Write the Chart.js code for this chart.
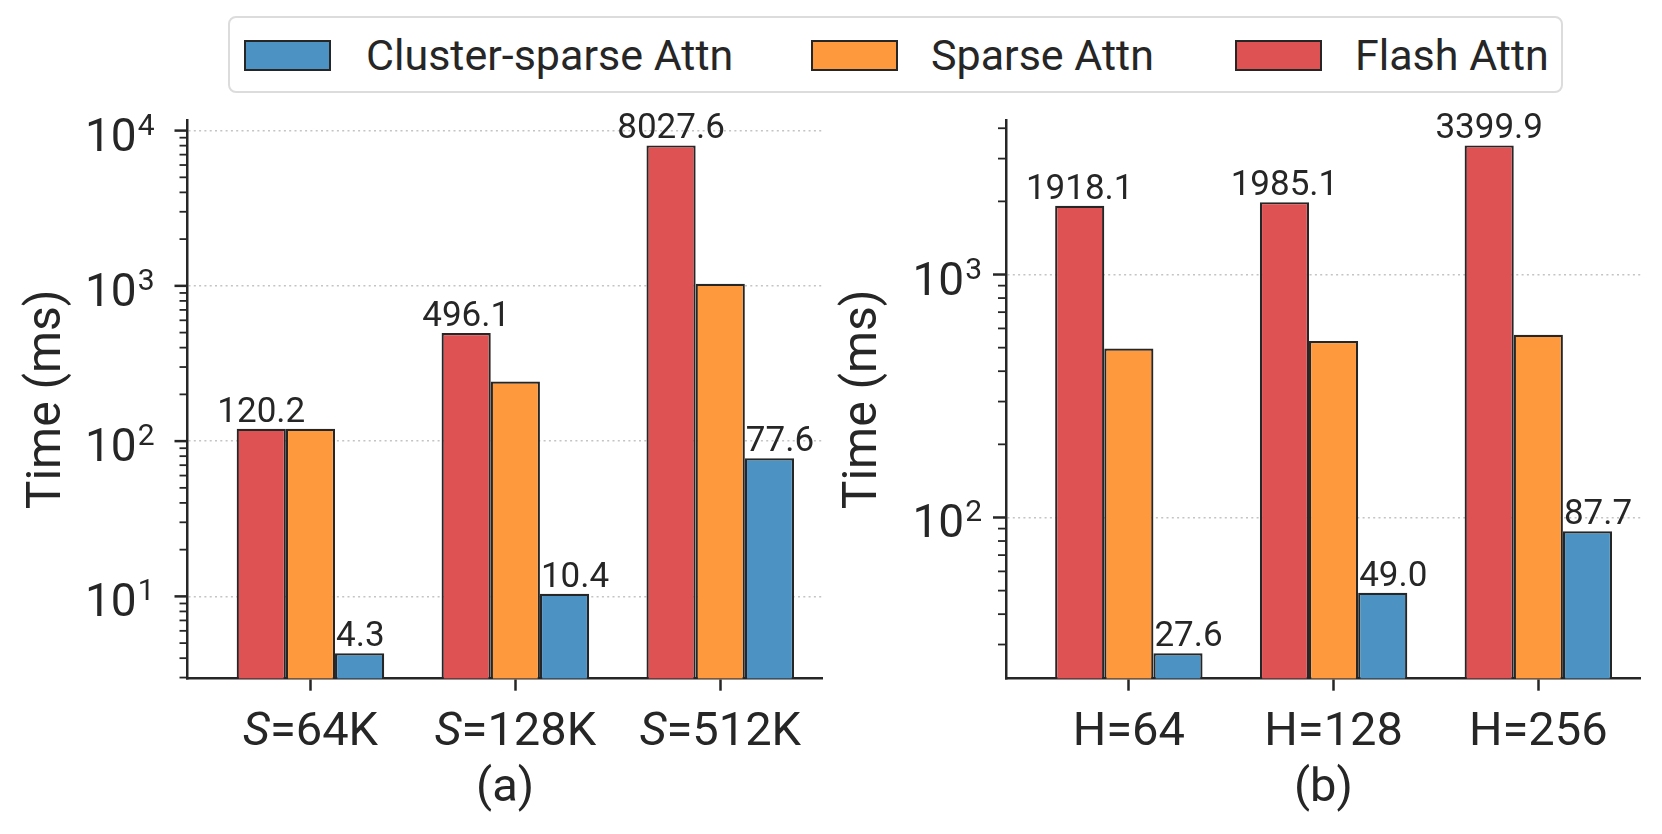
<!DOCTYPE html>
<html>
<head>
<meta charset="utf-8">
<script src="https://cdn.jsdelivr.net/npm/chart.js@4.4.1/dist/chart.umd.min.js"></script>
<style>
  body { margin: 0; background: #fff; font-family: Roboto, "Liberation Sans", sans-serif; }
  #page { position: relative; width: 1662px; height: 834px; overflow: hidden; }
  canvas { position: absolute; top: 0; }
  #legendBox {
    position: absolute; left: 228px; top: 16px; width: 1335px; height: 77px;
    box-sizing: border-box; border: 2px solid #dcdcdc; border-radius: 8px; background: #fff;
  }
  .patch { position: absolute; top: 40px; width: 87px; height: 31px; box-sizing: border-box; border: 2px solid #262626; }
  .ltext { position: absolute; top: 34px; height: 43px; line-height: 43px; font-size: 43px; color: #262626; white-space: nowrap; }
</style>
</head>
<body>
<div id="page">
  <canvas id="chartA" width="831" height="834" style="left:0"></canvas>
  <canvas id="chartB" width="831" height="834" style="left:831px"></canvas>
  <div id="legendBox"></div>
</div>
<script>
// series, left to right inside each group
const seriesNames = ['Flash Attn', 'Sparse Attn', 'Cluster-sparse Attn'];
const seriesColors = ['rgb(222,82,83)', 'rgb(255,153,62)', 'rgb(76,146,195)'];

// (a) varying sequence length
const labelsA = ['S=64K', 'S=128K', 'S=512K'];
const flashA = [120.2, 496.1, 8027.6];
const sparseA = [120.0, 242, 1032];
const clusterA = [4.3, 10.4, 77.6];
const decadesA = [1, 2, 3, 4];

// (b) varying number of heads
const labelsB = ['H=64', 'H=128', 'H=256'];
const flashB = [1918.1, 1985.1, 3399.9];
const sparseB = [496, 532, 565];
const clusterB = [27.6, 49.0, 87.7];
const decadesB = [2, 3];

const INK = '#262626';
const FONT = 'Roboto, "Liberation Sans", sans-serif';
const TICK_PX = 47;

function isDecade(v) {
  const l = Math.log10(v);
  return Math.abs(l - Math.round(l)) < 1e-9;
}

// 1..9 x 10^k ticks inside the range
function logTicks(min, max) {
  const out = [];
  for (let e = Math.floor(Math.log10(min)); e <= Math.ceil(Math.log10(max)); e++) {
    for (let m = 1; m < 10; m++) {
      const v = m * Math.pow(10, e);
      if (v >= min && v <= max) out.push({ value: v });
    }
  }
  return out;
}

const decor = {
  id: 'decor',
  afterDraw(chart, args, o) {
    const { ctx, chartArea: a, scales: { x, y } } = chart;
    ctx.save();
    ctx.strokeStyle = INK;
    ctx.fillStyle = INK;
    ctx.lineCap = 'butt';

    // y tick marks, long at decades
    y.ticks.forEach(t => {
      const py = y.getPixelForValue(t.value);
      const major = isDecade(t.value);
      ctx.lineWidth = major ? 2.5 : 1.8;
      ctx.beginPath();
      ctx.moveTo(a.left - (major ? 13 : 8), py);
      ctx.lineTo(a.left, py);
      ctx.stroke();
    });

    // y tick labels 10^k
    ctx.textBaseline = 'alphabetic';
    ctx.textAlign = 'left';
    o.decades.forEach(k => {
      const py = y.getPixelForValue(Math.pow(10, k));
      const right = a.left - o.labelGap;
      ctx.font = '30px ' + FONT;
      const wExp = ctx.measureText(String(k)).width;
      ctx.fillText(String(k), right - wExp, py + 4);
      ctx.font = '46px ' + FONT;
      const wBase = ctx.measureText('10').width;
      ctx.fillText('10', right - wExp - wBase - 1, py + 20);
    });

    // x tick labels, italic variable name
    o.labels.forEach((lab, i) => {
      const px = x.getPixelForValue(i);
      const italic = lab.startsWith('S=');
      const head = italic ? 'S' : '';
      const tail = italic ? lab.slice(1) : lab;
      ctx.font = 'italic ' + TICK_PX + 'px ' + FONT;
      const wh = head ? ctx.measureText(head).width : 0;
      ctx.font = TICK_PX + 'px ' + FONT;
      const wt = ctx.measureText(tail).width;
      let sx = px - (wh + wt) / 2;
      if (head) {
        ctx.font = 'italic ' + TICK_PX + 'px ' + FONT;
        ctx.fillText(head, sx, 745);
        sx += wh;
      }
      ctx.font = TICK_PX + 'px ' + FONT;
      ctx.fillText(tail, sx, 745);
    });

    // caption under the panel
    ctx.textAlign = 'center';
    ctx.font = TICK_PX + 'px ' + FONT;
    ctx.fillText(o.caption, (a.left + a.right) / 2, 801);

    // y axis title
    ctx.save();
    ctx.translate(o.titleX, (a.top + a.bottom) / 2);
    ctx.rotate(-Math.PI / 2);
    ctx.textBaseline = 'middle';
    ctx.font = '48px ' + FONT;
    ctx.fillText('Time (ms)', 0, 0);
    ctx.restore();

    // value labels on flash (centred) and cluster-sparse (left aligned) bars
    ctx.font = '35px ' + FONT;
    ctx.textBaseline = 'alphabetic';
    chart.getDatasetMeta(0).data.forEach((el, i) => {
      ctx.textAlign = 'center';
      ctx.fillText(chart.data.datasets[0].data[i].y.toFixed(1), el.x, el.y - 7);
    });
    chart.getDatasetMeta(2).data.forEach((el, i) => {
      ctx.textAlign = 'left';
      ctx.fillText(chart.data.datasets[2].data[i].y.toFixed(1), el.x - el.width / 2 + 1, el.y - 7);
    });
    ctx.restore();
  }
};

function makeChart(id, series, labels, decades, yMin, yMax, box, extra) {
  const datasets = series.map((vals, s) => ({
    label: seriesNames[s],
    data: vals.map((v, i) => ({ x: i, y: v })),
    backgroundColor: seriesColors[s],
    borderColor: INK,
    borderWidth: 2.2,
    categoryPercentage: 0.72,
    barPercentage: 1.0
  }));

  return new Chart(document.getElementById(id), {
    type: 'bar',
    data: { datasets },
    options: {
      responsive: false,
      animation: false,
      devicePixelRatio: 1,
      layout: { padding: { left: 0, right: box.right, top: box.top, bottom: 0 } },
      plugins: {
        legend: { display: false },
        tooltip: { enabled: false },
        decor: { labels, decades, caption: extra.caption, titleX: extra.titleX, labelGap: extra.labelGap }
      },
      scales: {
        x: {
          type: 'linear',
          min: -0.6,
          max: 2.5,
          bounds: 'data',
          offset: false,
          afterBuildTicks: s => { s.ticks = labels.map((_, i) => ({ value: i })); },
          afterFit: s => { s.height = box.xHeight; },
          ticks: { display: false },
          grid: {
            display: true, offset: false, drawOnChartArea: false, drawTicks: true,
            tickLength: 12, tickWidth: 2.5, tickColor: INK, color: INK
          },
          border: { display: true, color: INK, width: 2.5 }
        },
        y: {
          type: 'logarithmic',
          min: yMin,
          max: yMax,
          bounds: 'data',
          afterBuildTicks: s => { s.ticks = logTicks(yMin, yMax); },
          afterFit: s => { s.width = box.left; },
          ticks: { display: false },
          grid: {
            drawTicks: false,
            lineWidth: 1.5,
            color: c => (c.tick && isDecade(c.tick.value)) ? '#c4c4c4' : 'rgba(0,0,0,0)'
          },
          border: { display: true, color: INK, width: 2.5, dash: [2, 3.3] }
        }
      }
    },
    plugins: [decor]
  });
}

makeChart('chartA', [flashA, sparseA, clusterA], labelsA, decadesA, 2.95, 11700,
  { left: 187.5, right: 8.3, top: 120, xHeight: 155.3 },
  { caption: '(a)', titleX: 48, labelGap: 33 });

makeChart('chartB', [flashB, sparseB, clusterB], labelsB, decadesB, 21.7, 4325,
  { left: 175, right: 21.3, top: 120, xHeight: 155.3 },
  { caption: '(b)', titleX: 33, labelGap: 24 });

// legend across both panels
const legendOrder = [2, 1, 0];
const legendPos = [[244, 366], [811, 931], [1235, 1355]];
const page = document.getElementById('page');
legendOrder.forEach((s, j) => {
  const p = document.createElement('div');
  p.className = 'patch';
  p.style.left = legendPos[j][0] + 'px';
  p.style.background = seriesColors[s];
  page.appendChild(p);
  const t = document.createElement('div');
  t.className = 'ltext';
  t.style.left = legendPos[j][1] + 'px';
  t.textContent = seriesNames[s];
  page.appendChild(t);
});
</script>
</body>
</html>
